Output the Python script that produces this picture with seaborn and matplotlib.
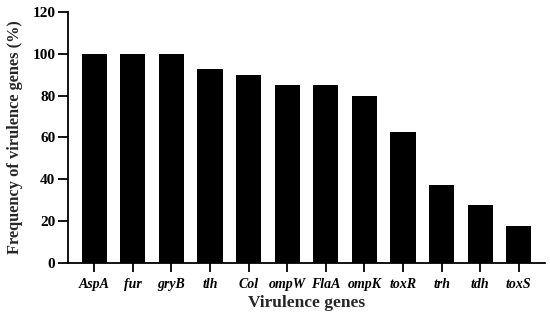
import matplotlib
matplotlib.use("Agg")
import matplotlib.pyplot as plt
import seaborn as sns
import pandas as pd

genes = ["AspA", "fur", "gryB", "tlh", "Col", "ompW", "FlaA", "ompK", "toxR", "trh", "tdh", "toxS"]
freq = [100, 100, 100, 92.5, 90, 85, 85, 80, 62.5, 37.5, 27.5, 17.5]
yticks = [0, 20, 40, 60, 80, 100, 120]

sns.set_style("ticks")
plt.rcParams['font.family'] = ['Liberation Serif', 'DejaVu Serif']
plt.rcParams['font.weight'] = 'bold'

df = pd.DataFrame({"gene": genes, "freq": freq})

fig = plt.figure(figsize=(5.5, 3.23), dpi=100)
ax = fig.add_axes([0.1236, 0.1858, 0.8674, 0.7772])
sns.barplot(data=df, x="gene", y="freq", color="black", width=0.65,
            edgecolor="black", linewidth=0, saturation=1, ax=ax)

ax.set_xlim(-0.68, 11.68)
ax.set_ylim(0, 120)
ax.set_yticks(yticks)
ax.set_yticklabels([str(t) for t in yticks], fontsize=11, fontweight='bold')
ax.set_xticks(range(len(genes)))
ax.set_xticklabels(genes, fontsize=10, fontweight='bold', fontstyle='italic')
ax.set_xlabel("Virulence genes", fontsize=12.5, fontweight='bold', labelpad=3)
ax.set_ylabel("Frequency of virulence genes (%)", fontsize=11.8, fontweight='bold', labelpad=7)

for s in ["top", "right"]:
    ax.spines[s].set_visible(False)
for s in ["left", "bottom"]:
    ax.spines[s].set_linewidth(1.3)
    ax.spines[s].set_color("black")
ax.tick_params(axis='both', direction='out', width=1.3, color='black', labelcolor='black')
ax.tick_params(axis='x', length=6.5, pad=4)
ax.tick_params(axis='y', length=7.5, pad=1.5)

fig.savefig("out.png", dpi=100)
